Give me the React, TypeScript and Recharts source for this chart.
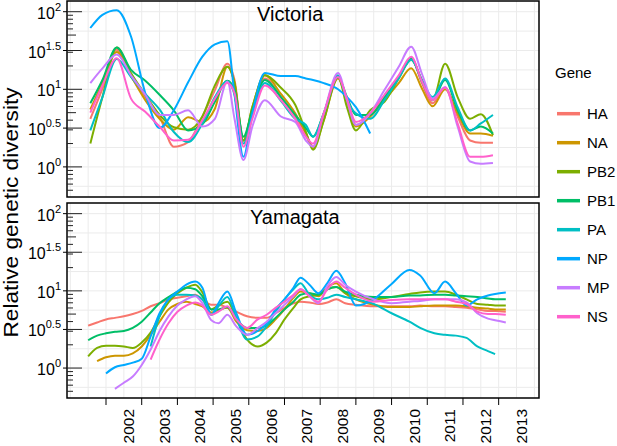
import { LineChart, Line, XAxis, YAxis, CartesianGrid, ReferenceLine, ReferenceArea } from 'recharts'

const genes = ['HA', 'NA', 'PB2', 'PB1', 'PA', 'NP', 'MP', 'NS']
const geneColors = ['#F8766D', '#CD9600', '#7CAE00', '#00BE67', '#00BFC4', '#00A9FF', '#C77CFF', '#FF61CC']

// Victoria (log10 of relative genetic diversity)
const vicYears = [2001.56, 2001.9, 2002.3, 2002.7, 2003.1, 2003.5, 2003.9, 2004.3, 2004.7, 2005.05, 2005.4, 2005.6, 2005.85, 2006.1, 2006.45, 2006.9, 2007.3, 2007.6, 2007.8, 2008.1, 2008.5, 2008.75, 2009.0, 2009.4, 2009.8, 2010.2, 2010.55, 2010.85, 2011.15, 2011.5, 2011.85, 2012.2, 2012.5, 2012.84]
const vicHA = [0.62, 1.01, 1.51, 1.17, 0.9, 0.65, 0.26, 0.32, 0.65, 0.99, 1.33, 1.12, 0.34, 0.73, 1.14, 0.9, 0.65, 0.43, 0.26, 0.65, 1.16, 0.86, 0.54, 0.65, 0.9, 1.16, 1.4, 1.08, 0.82, 1.02, 0.65, 0.34, 0.31, 0.31]
const vicNA = [0.74, 1.08, 1.48, 1.17, 0.86, 0.62, 0.48, 0.64, 0.58, 0.75, 1.29, 1.08, 0.34, 0.77, 1.18, 0.94, 0.69, 0.43, 0.24, 0.6, 1.14, 0.84, 0.52, 0.65, 0.86, 1.08, 1.27, 1.01, 0.78, 1.0, 0.69, 0.43, 0.43, 0.4]
const vicPB2 = [0.3, 0.9, 1.54, 1.21, 0.93, 0.67, 0.51, 0.48, 0.65, 1.05, 1.29, 1.08, 0.34, 0.77, 1.18, 1.02, 0.8, 0.45, 0.22, 0.6, 1.16, 0.77, 0.47, 0.73, 0.84, 1.14, 1.38, 1.12, 0.86, 1.33, 0.9, 0.62, 0.68, 0.41]
const vicPB1 = [0.82, 1.12, 1.54, 1.25, 1.11, 0.93, 0.73, 0.47, 0.55, 0.84, 1.11, 0.99, 0.39, 0.73, 1.12, 0.9, 0.67, 0.5, 0.39, 0.69, 1.16, 0.9, 0.67, 0.67, 0.9, 1.16, 1.4, 1.1, 0.86, 1.12, 0.73, 0.47, 0.52, 0.43]
const vicPA = [0.47, 0.9, 1.39, 1.16, 0.94, 0.74, 0.45, 0.32, 0.56, 0.9, 1.1, 0.93, 0.3, 0.65, 1.08, 0.85, 0.62, 0.54, 0.39, 0.69, 1.18, 0.86, 0.69, 0.62, 0.86, 1.14, 1.38, 1.12, 0.9, 1.14, 0.77, 0.47, 0.56, 0.67]
const vicNP = [1.79, 1.96, 2.02, 1.68, 0.95, 0.5, 0.73, 1.09, 1.42, 1.58, 1.62, 0.93, 0.13, 0.69, 1.21, 1.17, 1.17, 1.14, 1.12, 1.08, 1.0, 0.9, 0.77, 0.43, null, null, null, null, null, null, null, null, null, null]
const vicMP = [1.08, 1.27, 1.45, 1.18, 0.93, 0.67, 0.67, 0.73, 0.52, 0.62, 1.1, 0.62, 0.09, 0.52, 0.86, 0.65, 0.58, 0.34, 0.26, 0.69, 1.21, 0.86, 0.54, 0.69, 0.99, 1.29, 1.55, 1.2, 0.88, 1.03, 0.52, 0.07, 0.04, 0.05]
const vicNS = [0.7, 1.05, 1.4, 0.88, 0.71, 0.52, 0.34, 0.35, 0.6, 0.88, 1.08, 0.95, 0.26, 0.62, 1.05, 0.86, 0.62, 0.39, 0.3, 0.69, 1.16, 0.88, 0.58, 0.69, 0.93, 1.18, 1.42, 1.1, 0.86, 1.02, 0.56, 0.13, 0.13, 0.15]

// Yamagata
const yamYears = [2001.5, 2001.75, 2002.0, 2002.25, 2002.5, 2002.75, 2003.0, 2003.25, 2003.5, 2003.75, 2004.0, 2004.25, 2004.5, 2004.7, 2004.95, 2005.15, 2005.4, 2005.65, 2005.95, 2006.25, 2006.5, 2006.75, 2007.0, 2007.25, 2007.45, 2007.7, 2007.95, 2008.2, 2008.45, 2008.7, 2009.0, 2009.5, 2010.0, 2010.5, 2010.8, 2011.2, 2011.5, 2011.8, 2012.1, 2012.4, 2012.7, 2012.9, 2013.2]
const yamHA = [0.55, 0.59, 0.63, 0.65, 0.67, 0.7, 0.74, 0.8, 0.84, 0.89, 0.91, 0.93, 0.95, 0.89, 0.82, 0.82, 0.78, 0.73, 0.67, 0.65, 0.65, 0.71, 0.78, 0.84, 0.86, 0.85, 0.83, 0.85, 0.89, 0.84, 0.82, 0.8, 0.8, 0.8, 0.81, 0.8, 0.8, 0.79, 0.78, 0.76, 0.74, 0.74, 0.73]
const yamNA = [null, 0.09, 0.14, 0.16, 0.16, 0.19, 0.28, 0.43, 0.6, 0.76, 0.83, 0.86, 0.83, 0.8, 0.72, 0.75, 0.78, 0.6, 0.49, 0.48, 0.52, 0.63, 0.76, 0.91, 0.99, 0.97, 0.93, 1.05, 1.1, 0.97, 0.89, 0.82, 0.79, 0.79, 0.8, 0.81, 0.81, 0.81, 0.8, 0.78, 0.77, 0.76, 0.76]
const yamPB2 = [0.15, 0.26, 0.29, 0.29, 0.28, 0.26, 0.33, 0.46, 0.67, 0.85, 0.97, 1.04, 1.08, 0.98, 0.76, 0.81, 0.86, 0.65, 0.37, 0.28, 0.33, 0.45, 0.63, 0.78, 0.89, 0.93, 0.95, 1.02, 1.05, 0.97, 0.93, 0.89, 0.92, 0.96, 0.98, 0.99, 0.99, 0.95, 0.89, 0.83, 0.82, 0.81, 0.81]
const yamPB1 = [0.36, 0.42, 0.45, 0.47, 0.48, 0.52, 0.6, 0.72, 0.84, 0.92, 0.99, 1.04, 1.02, 0.93, 0.76, 0.76, 0.79, 0.63, 0.52, 0.52, 0.55, 0.65, 0.76, 0.86, 0.95, 0.97, 0.95, 1.02, 1.05, 0.99, 0.95, 0.92, 0.92, 0.94, 0.94, 0.95, 0.95, 0.94, 0.93, 0.92, 0.9, 0.89, 0.89]
const yamPA = [null, null, null, null, null, null, null, 0.28, 0.67, 0.89, 0.95, 0.95, 0.94, 0.89, 0.69, 0.8, 0.92, 0.65, 0.37, 0.41, 0.54, 0.73, 0.89, 1.02, 1.1, 0.95, 0.89, 0.91, 0.95, 0.92, 0.89, 0.83, 0.71, 0.6, 0.52, 0.45, 0.43, 0.42, 0.39, 0.28, 0.22, 0.18, null]
const yamNP = [null, null, -0.07, 0.01, 0.04, 0.07, 0.12, 0.41, 0.71, 0.89, 0.99, 1.08, 1.12, 1.04, 0.69, 0.84, 0.99, 0.71, 0.43, 0.48, 0.58, 0.76, 0.89, 1.04, 1.17, 1.08, 0.97, 1.1, 1.26, 1.1, 0.81, 0.89, 1.09, 1.27, 1.2, 0.97, 1.12, 0.97, 0.81, 0.89, 0.94, 0.96, 0.98]
const yamMP = [null, null, null, -0.27, -0.19, -0.11, 0.04, 0.24, 0.48, 0.67, 0.81, 0.89, 0.93, 0.84, 0.62, 0.58, 0.69, 0.54, 0.43, 0.52, 0.6, 0.71, 0.82, 0.93, 1.02, 0.93, 0.84, 1.06, 1.18, 1.08, 0.99, 0.89, 0.84, 0.86, 0.87, 0.89, 0.89, 0.89, 0.85, 0.71, 0.64, 0.62, 0.59]
const yamNS = [null, null, null, null, null, null, null, 0.11, 0.37, 0.58, 0.73, 0.81, 0.85, 0.81, 0.69, 0.73, 0.8, 0.63, 0.52, 0.63, 0.69, 0.78, 0.86, 0.95, 1.02, 0.93, 0.86, 1.02, 1.12, 1.04, 0.95, 0.86, 0.88, 0.89, 0.89, 0.89, 0.89, 0.86, 0.83, 0.73, 0.7, 0.7, 0.69]

const yearTicks = [2002, 2003, 2004, 2005, 2006, 2007, 2008, 2009, 2010, 2011, 2012, 2013]
const logTicks = [0, 0.5, 1, 1.5, 2]
const logTickLabels = ['0', '0.5', '1', '1.5', '2']
const minorMultipliers = [0.5, 0.6, 0.7, 0.8, 0.9, 2, 3, 4, 5, 6, 7, 8, 9, 20, 30, 40, 50, 60, 70, 80, 90]
const gridX = [2001, 2001.5, 2002, 2002.5, 2003, 2003.5, 2004, 2004.5, 2005, 2005.5, 2006, 2006.5, 2007, 2007.5, 2008, 2008.5, 2009, 2009.5, 2010, 2010.5, 2011, 2011.5, 2012, 2012.5, 2013, 2013.5, 2014]
const gridY = [-0.25, 0, 0.25, 0.5, 0.75, 1, 1.25, 1.5, 1.75, 2]

const X_DOMAIN: [number, number] = [2000.907, 2014.13]
const Y_DOMAIN: [number, number] = [-0.388, 2.138]

function buildRows(years: number[], series: (number | null)[][]) {
  return years.map((x, i) => {
    const row: Record<string, number | null> = { x }
    genes.forEach((g, j) => { row[g] = series[j][i] })
    return row
  })
}

const vicRows = buildRows(vicYears, [vicHA, vicNA, vicPB2, vicPB1, vicPA, vicNP, vicMP, vicNS])
const yamRows = buildRows(yamYears, [yamHA, yamNA, yamPB2, yamPB1, yamPA, yamNP, yamMP, yamNS])

const FONT = '"Liberation Sans", Arial, Helvetica, sans-serif'

function YTick({ y, payload }: any) {
  const i = logTicks.indexOf(payload.value)
  return (
    <text x={61} y={y + 7} textAnchor="end" fontSize={16} fill="#000" fontFamily={FONT}>
      10<tspan dy={-8} fontSize={11}>{logTickLabels[i]}</tspan>
    </text>
  )
}

function XTick({ x, payload }: any) {
  return (
    <text transform={`translate(${x + 28},209) rotate(-90)`} textAnchor="end" fontSize={15.5} fill="#000" fontFamily={FONT}>
      {payload.value}
    </text>
  )
}

// long/short log ticks drawn inside the panel's left edge
function logTickLines() {
  const yrPerPx = (X_DOMAIN[1] - X_DOMAIN[0]) / 472
  const lines = logTicks.map(v => ({ v, len: 15 }))
  minorMultipliers.forEach(m => {
    const first = String(m)[0]
    lines.push({ v: Math.log10(m), len: first === '5' ? 9 : 6 })
  })
  return lines.map(({ v, len }) => (
    <ReferenceLine
      key={`lt-${v}`}
      segment={[{ x: X_DOMAIN[0], y: v }, { x: X_DOMAIN[0] + len * yrPerPx, y: v }]}
      stroke="#222"
      strokeWidth={1}
    />
  ))
}

function Panel({ rows, showX, height, margin }: { rows: any[]; showX: boolean; height: number; margin: any }) {
  return (
    <LineChart width={545} height={height} data={rows} margin={margin}>
      <CartesianGrid verticalValues={gridX} horizontalValues={gridY} stroke="#ebebeb" strokeWidth={1} />
      <XAxis
        type="number"
        dataKey="x"
        domain={X_DOMAIN}
        allowDataOverflow
        ticks={yearTicks}
        hide={!showX}
        height={48}
        axisLine={false}
        tickSize={7}
        tickLine={{ stroke: '#000' }}
        tick={<XTick />}
        interval={0}
      />
      <YAxis
        type="number"
        domain={Y_DOMAIN}
        allowDataOverflow
        ticks={logTicks}
        width={67}
        axisLine={false}
        tickSize={4}
        tickLine={{ stroke: '#000' }}
        tick={<YTick />}
        interval={0}
      />
      {genes.map((g, i) => (
        <Line
          key={g}
          type="monotone"
          dataKey={g}
          stroke={geneColors[i]}
          strokeWidth={2}
          dot={false}
          activeDot={false}
          isAnimationActive={false}
        />
      ))}
      {logTickLines()}
      <ReferenceArea x1={X_DOMAIN[0]} x2={X_DOMAIN[1]} y1={Y_DOMAIN[0]} y2={Y_DOMAIN[1]} fill="none" stroke="#000" strokeWidth={1.5} ifOverflow="visible" />
    </LineChart>
  )
}

export default function App() {
  return (
    <div style={{ position: 'fixed', left: 0, top: 0, width: 617, height: 446, background: '#fff', overflow: 'hidden', fontFamily: FONT }}>
      <div style={{ position: 'absolute', left: 0, top: 0 }}>
        <Panel rows={vicRows} showX={false} height={200} margin={{ top: 1, right: 6, bottom: 3, left: 0 }} />
      </div>
      <div style={{ position: 'absolute', left: 0, top: 200 }}>
        <Panel rows={yamRows} showX height={246} margin={{ top: 3, right: 6, bottom: 0, left: 0 }} />
      </div>
      <svg width={617} height={446} style={{ position: 'absolute', left: 0, top: 0, pointerEvents: 'none' }}>
        <text transform="translate(17.5,212.5) rotate(-90)" textAnchor="middle" fontSize={21} textLength={250} lengthAdjust="spacingAndGlyphs" fill="#000" fontFamily={FONT}>
          Relative genetic diversity
        </text>
        <text x={257} y={21} fontSize={20} fill="#000" fontFamily={FONT}>Victoria</text>
        <text x={250} y={224} fontSize={20} fill="#000" fontFamily={FONT}>Yamagata</text>
        <text x={555} y={78} fontSize={15} fill="#000" fontFamily={FONT}>Gene</text>
        {genes.map((g, i) => (
          <g key={g}>
            <line x1={557} x2={580} y1={113.7 + 29 * i} y2={113.7 + 29 * i} stroke={geneColors[i]} strokeWidth={3.5} />
            <text x={587} y={113.7 + 29 * i + 5.5} fontSize={15} fill="#000" fontFamily={FONT}>{g}</text>
          </g>
        ))}
      </svg>
    </div>
  )
}
